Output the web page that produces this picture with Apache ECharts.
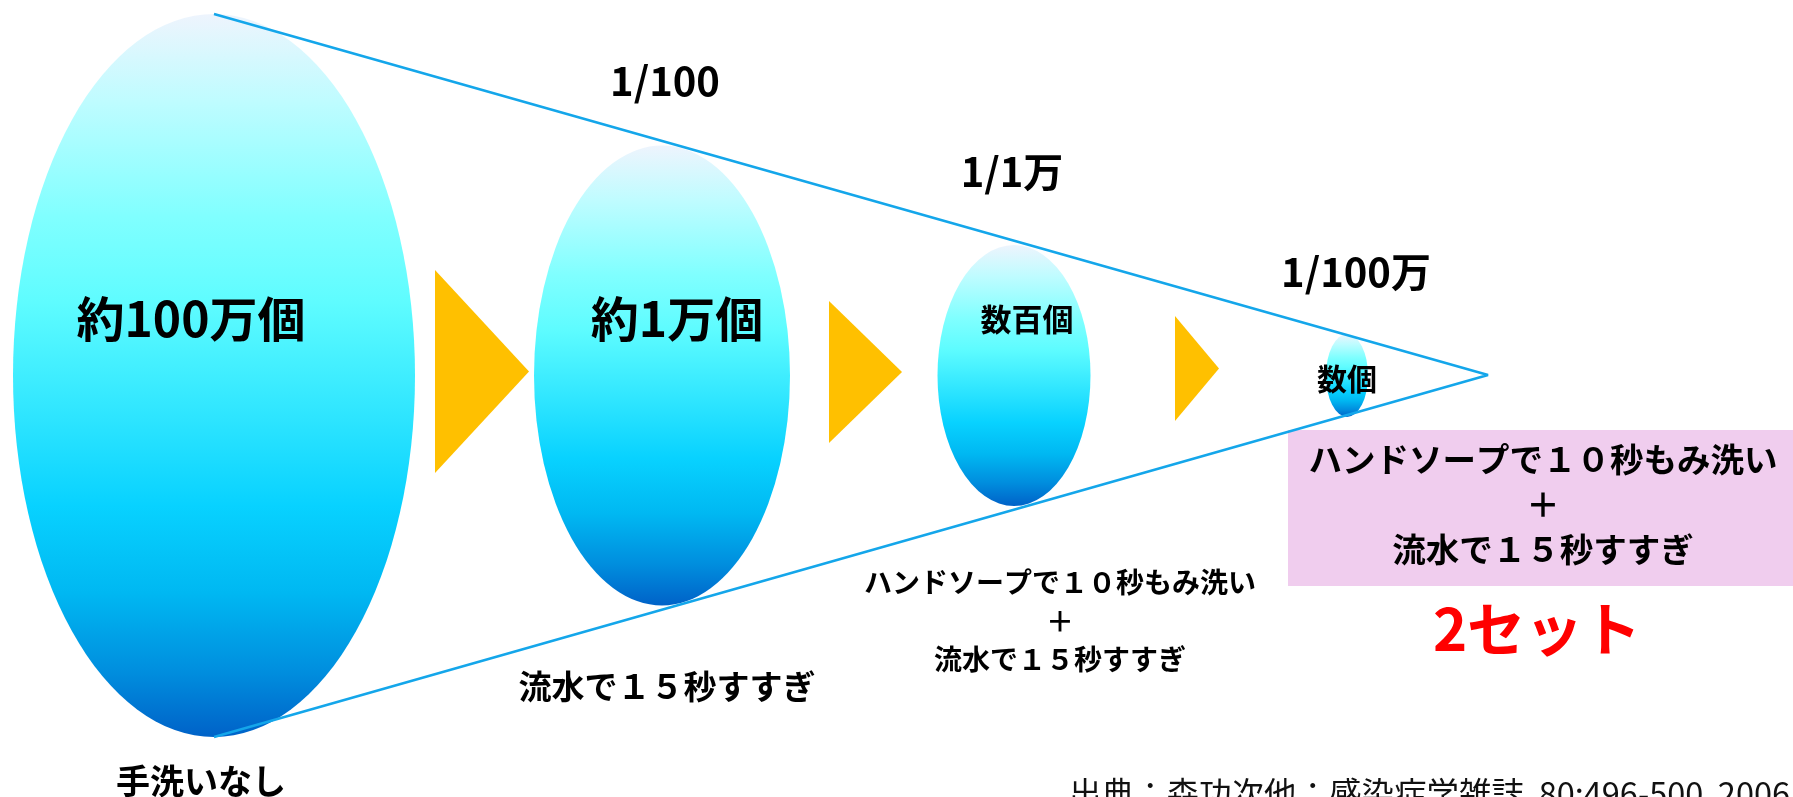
<!DOCTYPE html>
<html>
<head>
<meta charset="utf-8">
<title>手洗いの効果</title>
<script src="https://cdn.jsdelivr.net/npm/echarts@6/dist/echarts.min.js"></script>
<style>
  html, body { margin: 0; padding: 0; background: #fff; }
  #myChart { width: 1793px; height: 797px; }
</style>
</head>
<body>
<div id="myChart"></div>
<script>
// 残存菌数（表示ラベル）
var countLabels = ['約100万個', '約1万個', '数百個', '数個'];
// 減少率
var ratioLabels = ['1/100', '1/1万', '1/100万'];
// 手洗い方法
var stepLabels = [
  '手洗いなし',
  '流水で１５秒すすぎ',
  'ハンドソープで１０秒もみ洗い\n＋\n流水で１５秒すすぎ',
  'ハンドソープで１０秒もみ洗い\n＋\n流水で１５秒すすぎ'
];
var repeatLabel = '2セット';
var sourceText = '出典：森功次他：感染症学雑誌  80:496-500  2006';

// ---- レイアウト（座標は画面ピクセルと同じ軸） ----
var ellipseX = [214, 662, 1014, 1347];
var ellipseY = 375.5;
var ellipseSize = [[402, 723], [256, 460], [153, 261], [42, 83]];
var countPos = [[191, 319], [677, 319], [1027, 319], [1347, 379]];
var countFont = [48, 48, 31, 30];
var ratioPos = [[665, 81], [1012, 172], [1356, 272]];
var arrowPos = [[482, 371.5], [865.5, 372], [1197, 368.5]];
var arrowSize = [[94, 203], [73, 142], [44, 105]];
var funnel = [[214, 14], [1488, 375], [214, 737]];

var FONT = '"Noto Sans CJK JP", "Noto Sans", sans-serif';

var myChart = echarts.init(document.getElementById('myChart'));

var ballColor = new echarts.graphic.LinearGradient(0, 0, 0, 1, [
  { offset: 0, color: '#eef4fd' },
  { offset: 0.12, color: '#bffcff' },
  { offset: 0.28, color: '#80ffff' },
  { offset: 0.4, color: '#5efcff' },
  { offset: 0.55, color: '#30e6ff' },
  { offset: 0.68, color: '#08d2ff' },
  { offset: 0.8, color: '#00b8f2' },
  { offset: 0.91, color: '#008ede' },
  { offset: 1, color: '#0062c8' }
]);

function textPoint(x, y, text, style) {
  return {
    value: [x, y],
    label: Object.assign({
      show: true,
      position: 'inside',
      formatter: text,
      fontFamily: FONT,
      fontWeight: 'bold',
      color: '#000',
      align: 'center',
      verticalAlign: 'middle'
    }, style)
  };
}

var texts = [];
countLabels.forEach(function (t, i) {
  texts.push(textPoint(countPos[i][0], countPos[i][1], t, { fontSize: countFont[i] }));
});
ratioLabels.forEach(function (t, i) {
  texts.push(textPoint(ratioPos[i][0], ratioPos[i][1], t, { fontSize: 40 }));
});
texts.push(textPoint(201, 781, stepLabels[0], { fontSize: 34 }));
texts.push(textPoint(667, 686, stepLabels[1], { fontSize: 33 }));
texts.push(textPoint(1060, 621, stepLabels[2], { fontSize: 28, lineHeight: 38.5 }));
texts.push(textPoint(1543, 504, stepLabels[3], { fontSize: 33.5, lineHeight: 45 }));
texts.push(textPoint(1537, 629, repeatLabel, { fontSize: 58, color: '#ff0000' }));
texts.push(textPoint(1790, 794, sourceText, { fontSize: 32.5, fontWeight: 'normal', color: '#111', align: 'right' }));

myChart.setOption({
  backgroundColor: '#ffffff',
  animation: false,
  grid: { left: 0, right: 0, top: 0, bottom: 0 },
  xAxis: { type: 'value', min: 0, max: 1793, show: false },
  yAxis: { type: 'value', min: 0, max: 797, inverse: true, show: false },
  series: [
    {
      // ピンクの枠
      type: 'scatter',
      z: 1,
      clip: false,
      symbol: 'rect',
      symbolSize: [505, 156],
      itemStyle: { color: '#f0cdee', opacity: 1 },
      data: [[1540.5, 508]]
    },
    {
      // 菌の量
      type: 'scatter',
      z: 2,
      clip: false,
      symbol: 'circle',
      itemStyle: { color: ballColor, opacity: 1 },
      data: ellipseX.map(function (x, i) {
        return { value: [x, ellipseY], symbolSize: ellipseSize[i] };
      })
    },
    {
      // 矢印
      type: 'scatter',
      z: 2,
      clip: false,
      symbol: 'path://M0,0L1,1L0,2Z',
      itemStyle: { color: '#ffc000', opacity: 1 },
      data: arrowPos.map(function (p, i) {
        return { value: p, symbolSize: arrowSize[i] };
      })
    },
    {
      // じょうご線
      type: 'line',
      z: 3,
      clip: false,
      symbol: 'none',
      lineStyle: { color: '#14a6ea', width: 2.5 },
      data: funnel
    },
    {
      // 文字
      type: 'scatter',
      z: 5,
      clip: false,
      symbolSize: 1,
      itemStyle: { color: 'rgba(0,0,0,0)', opacity: 1 },
      data: texts
    }
  ]
});
</script>
</body>
</html>
